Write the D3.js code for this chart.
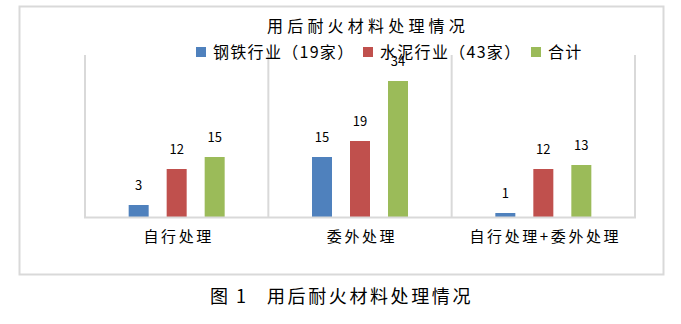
<!DOCTYPE html>
<html>
<head>
<meta charset="utf-8">
<script src="https://cdn.jsdelivr.net/npm/d3@7"></script>
<style>
  html, body { margin: 0; padding: 0; background: #fff; }
  svg { display: block; font-family: "Noto Sans CJK SC", "Noto Sans", sans-serif; }
</style>
</head>
<body>
<svg id="chart" width="681" height="324"></svg>
<script>
// Categories and series
const categories = ["自行处理", "委外处理", "自行处理+委外处理"];
const seriesNames = ["钢铁行业（19家）", "水泥行业（43家）", "合计"];
const steelValues = [3, 15, 1];
const cementValues = [12, 19, 12];
const totalValues = [15, 34, 13];
const seriesColors = ["#4f81bd", "#c0504d", "#9bbb59"];
const chartTitle = "用后耐火材料处理情况";
const captionNumber = "图 1";
const captionText = "用后耐火材料处理情况";

const seriesValues = [steelValues, cementValues, totalValues];
const rows = categories.map((c, i) => ({
  category: c,
  values: seriesNames.map((s, j) => ({ series: s, value: seriesValues[j][i], color: seriesColors[j] }))
}));

const svg = d3.select("#chart");
const gridColor = "#d9d9d9";

// Outer chart frame
svg.append("rect")
  .attr("x", 19.5).attr("y", 6.5)
  .attr("width", 644).attr("height", 268)
  .attr("fill", "none").attr("stroke", gridColor).attr("stroke-width", 2);

// Scales
const plot = { left: 85, right: 635, top: 55, bottom: 217 };
const x0 = d3.scaleBand().domain(categories).range([plot.left, plot.right]).padding(0);
const x1 = d3.scaleBand().domain(seriesNames).range([-48, 48]).paddingInner(18 / 38).paddingOuter(0);
const y = d3.scaleLinear().domain([0, 40]).range([plot.bottom, plot.top + 2]);

// Vertical separators between categories
const boundaries = categories.map(c => x0(c)).concat([plot.right]);
svg.append("g").selectAll("line")
  .data(boundaries)
  .join("line")
  .attr("x1", d => d).attr("x2", d => d)
  .attr("y1", plot.top).attr("y2", plot.bottom + 1)
  .attr("stroke", gridColor).attr("stroke-width", 2);

// Bars
const groups = svg.append("g").selectAll("g")
  .data(rows)
  .join("g")
  .attr("transform", d => `translate(${x0(d.category) + x0.bandwidth() / 2},0)`);

groups.selectAll("rect")
  .data(d => d.values)
  .join("rect")
  .attr("x", d => x1(d.series))
  .attr("y", d => y(d.value))
  .attr("width", x1.bandwidth())
  .attr("height", d => y(0) - y(d.value))
  .attr("fill", d => d.color);

// Baseline axis
svg.append("line")
  .attr("x1", plot.left - 1).attr("x2", plot.right + 1)
  .attr("y1", plot.bottom + 0.5).attr("y2", plot.bottom + 0.5)
  .attr("stroke", gridColor).attr("stroke-width", 2);

// Value labels
groups.selectAll("text.value")
  .data(d => d.values)
  .join("text")
  .attr("class", "value")
  .attr("x", d => x1(d.series) + x1.bandwidth() / 2)
  .attr("y", d => y(d.value) - 15)
  .attr("text-anchor", "middle")
  .attr("font-size", 13)
  .attr("fill", "#000")
  .text(d => d.value);

// Category labels
svg.append("g").selectAll("text")
  .data(categories)
  .join("text")
  .attr("x", d => x0(d) + x0.bandwidth() / 2 + 2)
  .attr("y", 242)
  .attr("text-anchor", "middle")
  .attr("font-size", 15)
  .attr("letter-spacing", 2.6)
  .attr("fill", "#000")
  .text(d => d);

// Chart title
svg.append("text")
  .attr("x", 267).attr("y", 32)
  .attr("font-size", 16)
  .attr("letter-spacing", 4.2)
  .attr("fill", "#000")
  .text(chartTitle);

// Legend
const legendX = [196, 363, 531];
const legend = svg.append("g").selectAll("g")
  .data(seriesNames)
  .join("g")
  .attr("transform", (d, i) => `translate(${legendX[i]},0)`);
legend.append("rect")
  .attr("x", 0).attr("y", 47)
  .attr("width", 10).attr("height", 10)
  .attr("fill", (d, i) => seriesColors[i]);
legend.append("text")
  .attr("x", 17).attr("y", 58)
  .attr("font-size", 16)
  .attr("letter-spacing", 1.3)
  .attr("fill", "#000")
  .text(d => d);

// Figure caption below the chart
svg.append("text")
  .attr("x", 210).attr("y", 303)
  .attr("font-size", 18)
  .attr("letter-spacing", 2)
  .attr("fill", "#000")
  .text(captionNumber);
svg.append("text")
  .attr("x", 267).attr("y", 303)
  .attr("font-size", 18)
  .attr("letter-spacing", 2.6)
  .attr("fill", "#000")
  .text(captionText);
</script>
</body>
</html>
